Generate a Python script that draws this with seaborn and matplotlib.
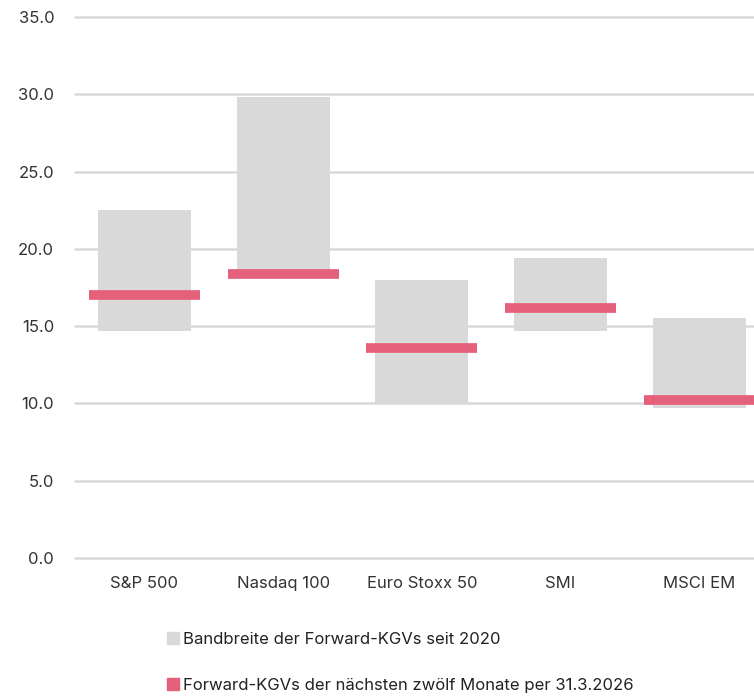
import numpy as np
import pandas as pd
import matplotlib
matplotlib.use("Agg")
import matplotlib.pyplot as plt
from matplotlib.lines import Line2D
import seaborn as sns

# data
indices = ["S&P 500", "Nasdaq 100", "Euro Stoxx 50", "SMI", "MSCI EM"]
range_low = [14.7, 18.3, 10.0, 14.7, 9.7]
range_high = [22.5, 29.8, 18.0, 19.4, 15.5]
current_pe = [17.0, 18.4, 13.6, 16.2, 10.2]

label_range = "Bandbreite der Forward-KGVs seit 2020"
label_current = "Forward-KGVs der nächsten zwölf Monate per 31.3.2026"

grey = "#d9d9d9"
pink = "#e5607a"

df = pd.DataFrame({"index": indices, "low": range_low, "high": range_high, "current": current_pe})
df["span"] = df["high"] - df["low"]

sns.set_theme(style="white")
plt.rcParams["font.family"] = ["Inter", "DejaVu Sans"]

fig = plt.figure(figsize=(7.54, 6.97), dpi=100)
ax = fig.add_axes([0.0995, 0.1994, 0.9005, 0.7762])

sns.barplot(data=df, x="index", y="span", bottom=df["low"], color=grey,
            width=0.67, saturation=1, linewidth=0, ax=ax, zorder=2)

# current forward P/E as thick horizontal markers
xs = np.arange(len(df))
ax.hlines(df["current"], xs - 0.4, xs + 0.4, color=pink, lw=7, zorder=3)

ax.set_ylim(0, 35)
ax.set_xlim(-0.5, 4.395)
ax.set_yticks(np.arange(0, 36, 5))
ax.set_yticklabels([f"{v:.1f}" for v in np.arange(0, 36, 5)])
ax.yaxis.grid(True, color=grey, lw=1.8, zorder=0)
for gl in ax.get_ygridlines():
    gl.set_clip_on(False)
ax.set_axisbelow(True)
for s in ax.spines.values():
    s.set_visible(False)
ax.set_xlabel("")
ax.set_ylabel("")
ax.tick_params(axis="both", length=0, labelsize=12, colors="#333333")
ax.tick_params(axis="y", pad=15)
ax.tick_params(axis="x", pad=13)

handles = [
    Line2D([], [], marker="s", ls="", color=grey, markersize=9),
    Line2D([], [], marker="s", ls="", color=pink, markersize=9),
]
fig.legend(handles, [label_range, label_current], loc="upper left",
           bbox_to_anchor=(0.21, 0.103), frameon=False, fontsize=12,
           labelspacing=1.85, handletextpad=0.1, handlelength=1.0,
           labelcolor="#222222", borderaxespad=0)

fig.savefig("out.png", dpi=100)
